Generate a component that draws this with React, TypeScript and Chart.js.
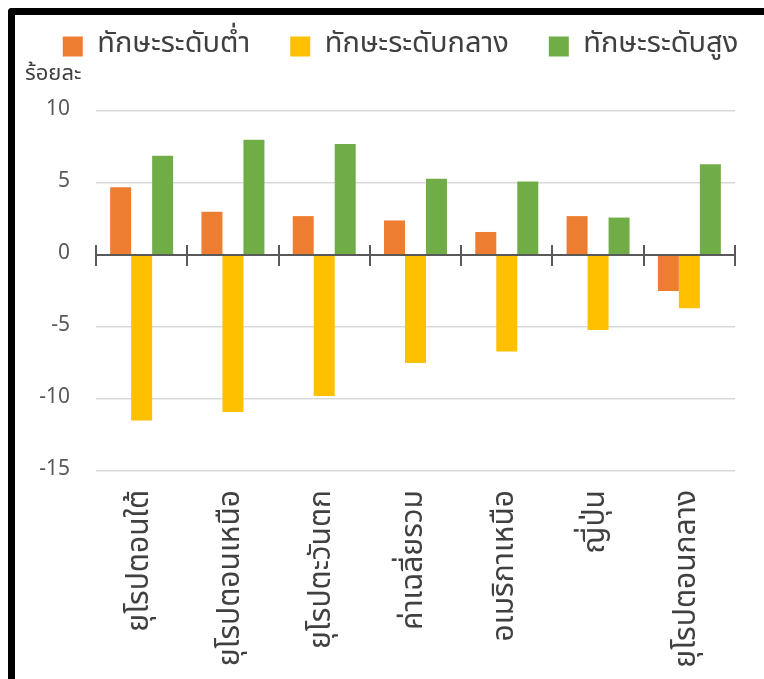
import React, { useEffect, useRef } from "react";
import { Chart, registerables } from "chart.js";

Chart.register(...registerables);

const categories = [
  "ยุโรปตอนใต้",
  "ยุโรปตอนเหนือ",
  "ยุโรปตะวันตก",
  "ค่าเฉลี่ยรวม",
  "อเมริกาเหนือ",
  "ญี่ปุ่น",
  "ยุโรปตอนกลาง",
];
const lowSkill = [4.7, 3.0, 2.7, 2.4, 1.6, 2.7, -2.5];
const midSkill = [-11.5, -10.9, -9.8, -7.5, -6.7, -5.2, -3.7];
const highSkill = [6.9, 8.0, 7.7, 5.3, 5.1, 2.6, 6.3];
const seriesNames = ["ทักษะระดับต่ำ", "ทักษะระดับกลาง", "ทักษะระดับสูง"];
const seriesColors = ["#ED7D31", "#FFC000", "#70AD47"];
const yMin = -15;
const yMax = 10;
const yStep = 5;
const yUnit = "ร้อยละ";

const FONT = "'Noto Sans Thai', 'Leelawadee UI', Tahoma, Loma, 'Open Sans', 'Noto Sans', sans-serif";

export default function App() {
  const ref = useRef<HTMLCanvasElement | null>(null);
  useEffect(() => {
    if (!ref.current) return;
    const zeroAxis = {
      id: "zeroAxis",
      afterDatasetsDraw(chart: any) {
        const { ctx, chartArea, scales } = chart;
        const y0 = scales.y.getPixelForValue(0);
        ctx.save();
        ctx.strokeStyle = "#595959";
        ctx.lineWidth = 2;
        ctx.beginPath();
        ctx.moveTo(chartArea.left, y0);
        ctx.lineTo(chartArea.right, y0);
        for (let i = 0; i <= categories.length; i++) {
          const x = Math.round(scales.x.getPixelForValue(i - 0.5));
          ctx.moveTo(x, y0 - 10);
          ctx.lineTo(x, y0 + 11);
        }
        ctx.stroke();
        ctx.restore();
      },
    };
    const unitLabel = {
      id: "unitLabel",
      afterDraw(chart: any) {
        const { ctx, chartArea } = chart;
        ctx.save();
        ctx.fillStyle = "#404040";
        ctx.font = `22px ${FONT}`;
        ctx.textAlign = "left";
        ctx.textBaseline = "middle";
        ctx.fillText(yUnit, chartArea.left - 71, chartArea.top - 35);
        ctx.restore();
      },
    };
    const legendFit = {
      id: "legendFit",
      beforeInit(chart: any) {
        const legend = chart.legend;
        if (!legend) return;
        const orig = legend.fit;
        legend.fit = function () {
          const w = this.maxWidth;
          this.maxWidth = 5000;
          orig.call(this);
          this.maxWidth = w;
          this.width = w;
          this.height = 119;
        };
      },
    };
    const chart = new Chart(ref.current, {
      type: "bar",
      data: {
        labels: categories,
        datasets: [lowSkill, midSkill, highSkill].map((d, i) => ({
          label: seriesNames[i],
          data: d,
          backgroundColor: seriesColors[i],
          borderWidth: 0,
          categoryPercentage: 0.69,
          barPercentage: 1.0,
          yAxisID: "y",
        })),
      },
      options: {
        responsive: false,
        animation: false,
        layout: { padding: { left: 2, right: -20, top: -23, bottom: 0 } },
        plugins: {
          legend: {
            position: "top",
            labels: {
              boxWidth: 20,
              boxHeight: 20,
              padding: 40,
              color: "#404040",
              font: { family: FONT, size: 29 },
            },
          },
          tooltip: { enabled: false },
        },
        scales: {
          x: {
            grid: { display: false },
            border: { display: false },
            afterFit(scale: any) {
              scale.height = 208;
            },
            ticks: {
              autoSkip: false,
              maxRotation: 90,
              minRotation: 90,
              padding: 11,
              color: "#404040",
              font: { family: FONT, size: 30 },
            },
          },
          y: {
            min: yMin,
            max: yMax,
            afterFit(scale: any) {
              scale.width = 79;
            },
            grid: { color: "#d9d9d9", lineWidth: 1.5, drawTicks: false },
            border: { display: false },
            ticks: {
              stepSize: yStep,
              padding: 26,
              color: "#595959",
              font: { family: FONT, size: 21 },
            },
          },
          yRight: {
            position: "right",
            display: true,
            min: yMin,
            max: yMax,
            afterFit(scale: any) {
              scale.width = 49;
            },
            grid: { display: false, drawTicks: false },
            border: { display: false },
            ticks: { display: false },
          },
        },
      },
      plugins: [zeroAxis, unitLabel, legendFit],
    } as any);
    return () => chart.destroy();
  }, []);
  return (
    <div
      style={{
        position: "fixed",
        left: 8,
        top: 8,
        width: 756,
        height: 671,
        boxSizing: "border-box",
        borderTop: "7px solid #000",
        borderLeft: "7px solid #000",
        borderTopLeftRadius: 4,
        background: "#fff",
        overflow: "hidden",
      }}
    >
      <canvas ref={ref} width={749} height={664} style={{ display: "block" }} />
    </div>
  );
}
